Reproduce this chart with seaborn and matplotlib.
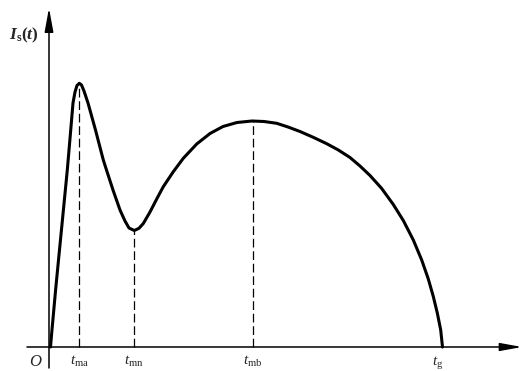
import numpy as np
import pandas as pd
import matplotlib
matplotlib.use("Agg")
import matplotlib.pyplot as plt
import seaborn as sns

# Curve I_s(t), values (arbitrary units)
t_vals = [0.15, 0.27, 0.66, 0.95, 1.44, 1.83, 2.13, 2.40, 2.60, 2.80, 3.03, 3.25, 3.50,
          3.90, 4.65, 5.43, 5.75, 6.40, 7.10, 7.60, 8.00, 8.53, 9.00, 9.43, 10.10, 10.77,
          11.43, 12.43, 13.43, 14.77, 16.10, 17.40, 18.80, 20.30, 21.50, 22.77, 23.90,
          25.10, 26.40, 27.77, 28.90, 30.10, 31.10, 32.10, 33.27, 34.43, 35.43, 36.43,
          37.27, 37.93, 38.43, 38.83, 39.17, 39.35]
I_vals = [0.00, 1.40, 5.70, 8.70, 13.70, 17.70, 21.20, 24.40, 25.50, 26.15, 26.37, 26.20,
          25.60, 24.40, 21.70, 18.70, 17.70, 15.70, 13.70, 12.60, 11.90, 11.65, 11.87,
          12.35, 13.50, 14.80, 16.03, 17.53, 18.87, 20.30, 21.35, 22.05, 22.45, 22.60,
          22.55, 22.37, 22.00, 21.55, 20.98, 20.33, 19.72, 18.95, 18.10, 17.15, 15.85,
          14.25, 12.65, 10.70, 8.70, 6.80, 5.05, 3.40, 1.70, 0.00]

# Marked instants
mark_t = [3.03, 8.53, 20.35]
mark_I = [26.37, 11.65, 22.60]
tick_labels = [r"$t_{\mathrm{ma}}$", r"$t_{\mathrm{mn}}$", r"$t_{\mathrm{mb}}$", r"$t_{\mathrm{g}}$"]
tick_pos = [3.03, 8.53, 20.35, 38.9]

sns.set_theme(style="white")
plt.rcParams["mathtext.fontset"] = "custom"
plt.rcParams["mathtext.it"] = "Liberation Serif:italic"
plt.rcParams["mathtext.rm"] = "Liberation Serif"
plt.rcParams["mathtext.bf"] = "Liberation Serif:bold"
plt.rcParams["mathtext.bfit"] = "Liberation Serif:bold:italic"
plt.rcParams["font.family"] = ["Liberation Serif", "DejaVu Serif"]

fig = plt.figure(figsize=(5.26, 3.71), dpi=100)
fig.patch.set_facecolor("white")
ax = fig.add_axes([0, 0, 1, 1])
ax.set_xlim(-4.9, 47.7)
ax.set_ylim(-2.4, 34.7)
ax.axis("off")

df = pd.DataFrame({"t": t_vals, "I": I_vals})
sns.lineplot(data=df, x="t", y="I", sort=False, color="black", linewidth=2.2,
             ax=ax, solid_capstyle="round", solid_joinstyle="round")

# dashed drop lines
for tx, iy in zip(mark_t, mark_I):
    ax.plot([tx, tx], [0, iy], color="black", linewidth=0.9, dashes=(7, 3))

# axes with arrows
ax.annotate("", xy=(47.3, 0), xytext=(-2.2, 0),
            arrowprops=dict(arrowstyle="-|>,head_length=1.1,head_width=0.2",
                            color="black", lw=1.1, shrinkA=0, shrinkB=0))
ax.annotate("", xy=(0, 33.9), xytext=(0, -2.1),
            arrowprops=dict(arrowstyle="-|>,head_length=1.2,head_width=0.22",
                            color="black", lw=1.1, shrinkA=0, shrinkB=0))

# labels
ax.text(-1.0, 31.2, r"$\mathbfit{I}_{\mathbf{s}}\mathbf{(}\mathbfit{t}\mathbf{)}$",
        ha="right", va="center", fontsize=12.5)
ax.text(-1.3, -1.5, r"$O$", ha="center", va="center", fontsize=12)
for lab, pos in zip(tick_labels, tick_pos):
    ax.text(pos, -0.7, lab, ha="center", va="top", fontsize=11)

fig.savefig("out.png", dpi=100, facecolor="white")
